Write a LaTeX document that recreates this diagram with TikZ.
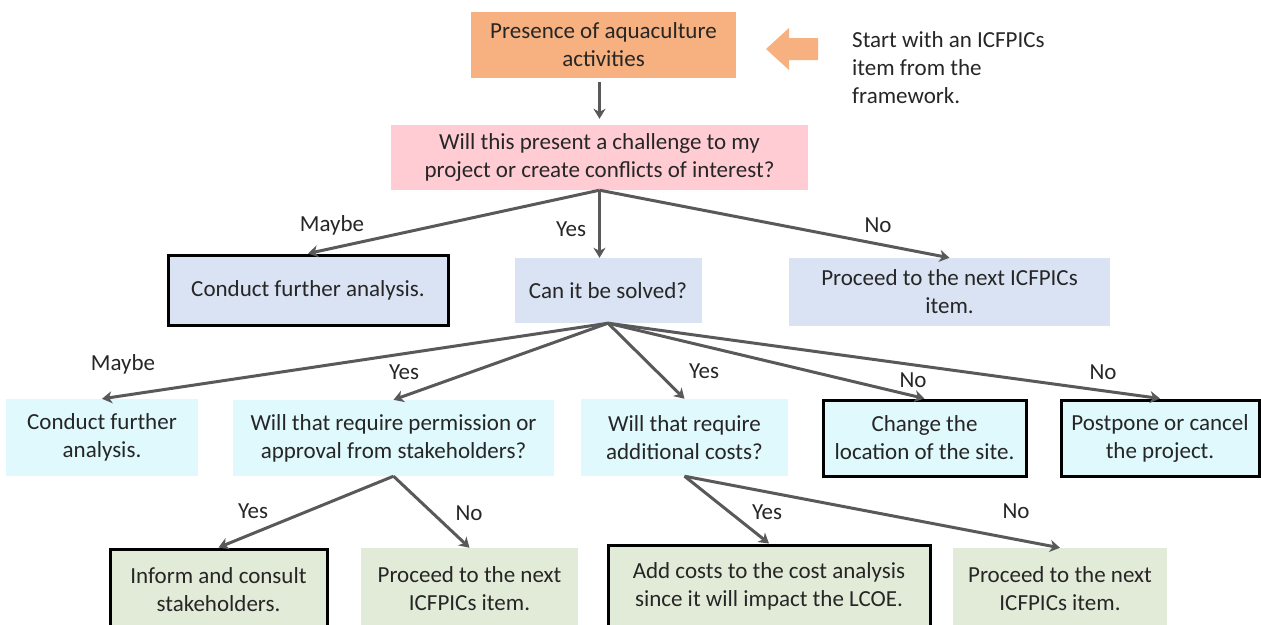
\documentclass[tikz,border=0pt]{standalone}
\usepackage{fontspec}
\setmainfont{Carlito}
\usetikzlibrary{arrows.meta,positioning}
\definecolor{ink}{HTML}{262626}
\definecolor{muted}{HTML}{595959}
\definecolor{peach}{HTML}{F7B07F}
\definecolor{rose}{HTML}{FFCCD3}
\definecolor{paleblue}{HTML}{DAE3F3}
\definecolor{palecyan}{HTML}{DFF9FD}
\definecolor{palegreen}{HTML}{E2EBD8}

\begin{document}
\begin{tikzpicture}[
  x=1pt,y=-1pt,
  font=\fontsize{23}{28}\selectfont,
  box/.style={inner sep=0pt,align=center,text=ink},
  endbox/.style={box,draw=black,line width=3pt},
  lbl/.style={text=ink,inner sep=0pt},
  arr/.style={-{Stealth[length=10pt,width=12pt,inset=3pt]},line width=3pt,color=muted}
]
\useasboundingbox (0,0) rectangle (1261,624);
\clip (0,0) rectangle (1261,624);
% top of the tree
\node[box,fill=peach,minimum width=265pt,minimum height=66pt] (start) at (603.5,45) {Presence of aquaculture\\activities};
\fill[peach] (766,49) -- (789,28) -- (789,38) -- (818,38) -- (818,60) -- (789,60) -- (789,70) -- cycle;
\node[lbl,align=left,anchor=west] (hint) at (852,68) {Start with an ICFPICs\\item from the\\framework.};
\node[box,fill=rose,minimum width=417pt,minimum height=65pt] (challenge) at (599.5,157.5) {Will this present a challenge to my\\project or create conflicts of interest?};
% second row
\node[endbox,fill=paleblue,minimum width=280pt,minimum height=70pt] (analysisA) at (308,290) {Conduct further analysis.};
\node[box,fill=paleblue,minimum width=187pt,minimum height=65pt] (solved) at (608,290.5) {Can it be solved?};
\node[box,fill=paleblue,minimum width=321pt,minimum height=68pt] (nextA) at (949.5,292) {Proceed to the next ICFPICs\\item.};
% third row
\node[box,fill=palecyan,minimum width=192pt,minimum height=77pt] (analysisB) at (102,437.5) {Conduct further\\analysis.};
\node[box,fill=palecyan,minimum width=321pt,minimum height=76pt] (permission) at (393.5,438) {Will that require permission or\\approval from stakeholders?};
\node[box,fill=palecyan,minimum width=207pt,minimum height=77pt] (costs) at (684.5,437.5) {Will that require\\additional costs?};
\node[endbox,fill=palecyan,minimum width=203pt,minimum height=76pt] (site) at (924.5,438) {Change the\\location of the site.};
\node[endbox,fill=palecyan,minimum width=198pt,minimum height=76pt] (postpone) at (1160,438) {Postpone or cancel\\the project.};
% bottom row
\node[endbox,fill=palegreen,minimum width=217pt,minimum height=82pt] (inform) at (218.5,590) {Inform and consult\\stakeholders.};
\node[box,fill=palegreen,minimum width=217pt,minimum height=82pt] (nextB) at (469.5,589) {Proceed to the next\\ICFPICs item.};
\node[endbox,fill=palegreen,minimum width=322pt,minimum height=82pt] (addcosts) at (769,586) {Add costs to the cost analysis\\since it will impact the LCOE.};
\node[box,fill=palegreen,minimum width=214pt,minimum height=82pt] (nextC) at (1060,589) {Proceed to the next\\ICFPICs item.};
% connectors
\draw[arr,shorten <=4pt,shorten >=6pt] (start.south -| challenge.north) -- (challenge.north);
\draw[arr] (challenge.south) -- (analysisA.north);
\draw[arr] (challenge.south) -- (challenge.south |- solved.north);
\draw[arr] (challenge.south) -- (nextA.north);
\draw[arr] (solved.south) -- (analysisB.north);
\draw[arr] (solved.south) -- (permission.north);
\draw[arr] (solved.south) -- (costs.north);
\draw[arr] (solved.south) -- (site.north);
\draw[arr] (solved.south) -- (postpone.north);
\draw[arr] (permission.south) -- (inform.north);
\draw[arr] (permission.south) -- (nextB.north);
\draw[arr] (costs.south) -- (addcosts.north);
\draw[arr] (costs.south) -- (nextC.north);
% answers
\node[lbl] (l1) at (332,225) {Maybe};
\node[lbl] (l2) at (571,229) {Yes};
\node[lbl] (l3) at (878,225) {No};
\node[lbl] (l4) at (123,364) {Maybe};
\node[lbl] (l5) at (404,372) {Yes};
\node[lbl] (l6) at (704,371) {Yes};
\node[lbl] (l7) at (913,380) {No};
\node[lbl] (l8) at (1103,372) {No};
\node[lbl] (l9) at (253,511) {Yes};
\node[lbl] (l10) at (469,513) {No};
\node[lbl] (l11) at (767,512) {Yes};
\node[lbl] (l12) at (1016,511) {No};
\end{tikzpicture}
\end{document}
